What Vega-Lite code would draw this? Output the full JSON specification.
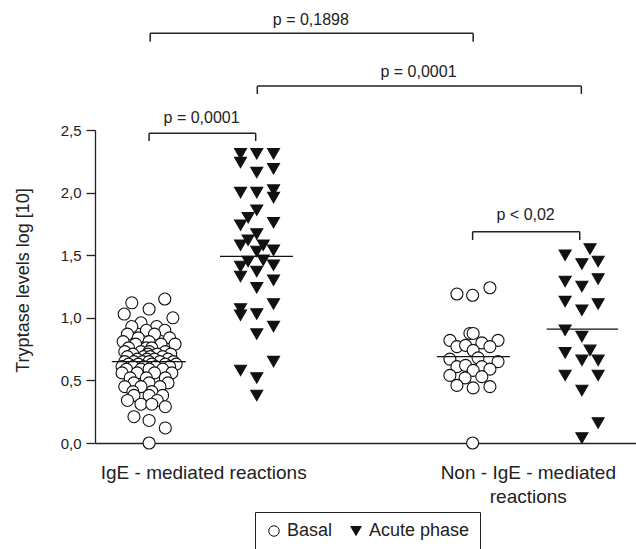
{
  "$schema": "https://vega.github.io/schema/vega-lite/v6.json",
  "width": 541,
  "height": 313,
  "autosize": {"type": "none"},
  "padding": {"left": 95, "top": 130, "right": 0, "bottom": 106},
  "background": "white",
  "config": {
    "view": {"stroke": null},
    "font": "Liberation Sans",
    "axis": {"grid": false, "domainColor": "#222", "tickColor": "#222", "labelColor": "#222", "titleColor": "#222", "labelFont": "Liberation Sans", "titleFont": "Liberation Sans", "domainWidth": 1.3, "tickWidth": 1.3},
    "legend": {"orient": "none", "legendX": 160, "legendY": 382, "direction": "horizontal", "labelFontSize": 18, "labelFont": "Liberation Sans", "labelColor": "#222", "strokeColor": "#222", "padding": 10, "symbolSize": 110, "symbolStrokeColor": "#111", "symbolStrokeWidth": 1, "labelOffset": 4, "columnPadding": 14, "symbolOpacity": 1}
  },
  "encoding": {
    "x": {"field": "x", "type": "quantitative", "scale": {"domain": [0, 10], "nice": false, "zero": false},
      "axis": {"values": [2, 8], "ticks": false, "tickSize": 0, "title": null, "labelFontSize": 19, "labelPadding": 35, "labelBaseline": "alphabetic", "labelLineHeight": 24, "labelAlign": "center", "labelFlush": false, "labelOverlap": false, "labelBound": false, "labelLimit": 0,
        "labelExpr": "datum.value == 2 ? 'IgE - mediated reactions' : ['Non - IgE - mediated', 'reactions']"}},
    "y": {"field": "y", "type": "quantitative", "scale": {"domain": [0, 2.5], "nice": false, "zero": false},
      "axis": {"values": [0, 0.5, 1, 1.5, 2, 2.5], "tickSize": 9, "labelPadding": 5, "labelFontSize": 15, "labelExpr": "replace(format(datum.value, '.1f'), '.', ',')",
        "title": "Tryptase levels log [10]", "titleFontSize": 18, "titleFontWeight": "normal", "titleX": -72, "titleY": 150, "titleAlign": "center", "titleBaseline": "middle", "titleAngle": 270}}
  },
  "layer": [
    {
      "data": {"values": [
        {"s":"Basal","x":1.29,"y":1.15},{"s":"Basal","x":0.68,"y":1.12},{"s":"Basal","x":1.0,"y":1.07},{"s":"Basal","x":0.54,"y":1.03},{"s":"Basal","x":1.44,"y":1.0},
        {"s":"Basal","x":0.85,"y":0.96},{"s":"Basal","x":0.68,"y":0.93},{"s":"Basal","x":1.14,"y":0.93},{"s":"Basal","x":1.29,"y":0.9},{"s":"Basal","x":0.95,"y":0.9},
        {"s":"Basal","x":0.6,"y":0.87},{"s":"Basal","x":1.1,"y":0.87},{"s":"Basal","x":0.8,"y":0.84},{"s":"Basal","x":1.38,"y":0.84},{"s":"Basal","x":0.52,"y":0.81},{"s":"Basal","x":1.0,"y":0.81},
        {"s":"Basal","x":0.75,"y":0.79},{"s":"Basal","x":1.22,"y":0.79},{"s":"Basal","x":1.48,"y":0.79},{"s":"Basal","x":0.62,"y":0.76},{"s":"Basal","x":0.95,"y":0.76},{"s":"Basal","x":1.05,"y":0.76},
        {"s":"Basal","x":0.55,"y":0.73},{"s":"Basal","x":0.85,"y":0.73},{"s":"Basal","x":1.0,"y":0.73},{"s":"Basal","x":1.3,"y":0.73},
        {"s":"Basal","x":0.7,"y":0.71},{"s":"Basal","x":0.98,"y":0.71},{"s":"Basal","x":1.15,"y":0.71},{"s":"Basal","x":1.4,"y":0.71},
        {"s":"Basal","x":0.6,"y":0.69},{"s":"Basal","x":0.9,"y":0.69},{"s":"Basal","x":1.02,"y":0.69},{"s":"Basal","x":1.25,"y":0.69},
        {"s":"Basal","x":0.78,"y":0.67},{"s":"Basal","x":0.96,"y":0.67},{"s":"Basal","x":1.1,"y":0.67},{"s":"Basal","x":1.35,"y":0.67},
        {"s":"Basal","x":0.55,"y":0.65},{"s":"Basal","x":0.72,"y":0.65},{"s":"Basal","x":0.88,"y":0.65},{"s":"Basal","x":1.0,"y":0.65},{"s":"Basal","x":1.2,"y":0.65},{"s":"Basal","x":1.45,"y":0.65},
        {"s":"Basal","x":0.62,"y":0.63},{"s":"Basal","x":0.8,"y":0.63},{"s":"Basal","x":1.05,"y":0.63},{"s":"Basal","x":1.3,"y":0.63},{"s":"Basal","x":1.5,"y":0.63},
        {"s":"Basal","x":0.5,"y":0.61},{"s":"Basal","x":0.7,"y":0.61},{"s":"Basal","x":0.9,"y":0.61},{"s":"Basal","x":1.12,"y":0.61},{"s":"Basal","x":1.38,"y":0.61},
        {"s":"Basal","x":0.58,"y":0.59},{"s":"Basal","x":0.85,"y":0.59},{"s":"Basal","x":1.0,"y":0.59},{"s":"Basal","x":1.25,"y":0.59},
        {"s":"Basal","x":0.5,"y":0.56},{"s":"Basal","x":0.78,"y":0.56},{"s":"Basal","x":1.1,"y":0.56},{"s":"Basal","x":1.42,"y":0.56},
        {"s":"Basal","x":0.65,"y":0.52},{"s":"Basal","x":0.95,"y":0.52},{"s":"Basal","x":1.3,"y":0.52},
        {"s":"Basal","x":0.72,"y":0.48},{"s":"Basal","x":1.0,"y":0.48},{"s":"Basal","x":1.35,"y":0.48},
        {"s":"Basal","x":0.55,"y":0.45},{"s":"Basal","x":0.85,"y":0.45},{"s":"Basal","x":1.2,"y":0.45},
        {"s":"Basal","x":0.7,"y":0.41},{"s":"Basal","x":1.05,"y":0.41},
        {"s":"Basal","x":0.72,"y":0.38},{"s":"Basal","x":1.0,"y":0.38},{"s":"Basal","x":1.25,"y":0.38},
        {"s":"Basal","x":0.6,"y":0.34},{"s":"Basal","x":1.15,"y":0.34},{"s":"Basal","x":0.85,"y":0.31},{"s":"Basal","x":1.05,"y":0.31},{"s":"Basal","x":1.3,"y":0.29},
        {"s":"Basal","x":0.72,"y":0.21},{"s":"Basal","x":1.0,"y":0.18},{"s":"Basal","x":1.3,"y":0.12},{"s":"Basal","x":1.0,"y":0.0},

        {"s":"Acute phase","x":2.69,"y":2.31},{"s":"Acute phase","x":2.99,"y":2.31},{"s":"Acute phase","x":3.3,"y":2.31},
        {"s":"Acute phase","x":2.69,"y":2.24},{"s":"Acute phase","x":3.3,"y":2.19},{"s":"Acute phase","x":2.99,"y":2.16},
        {"s":"Acute phase","x":2.69,"y":2.0},{"s":"Acute phase","x":2.99,"y":2.0},{"s":"Acute phase","x":3.3,"y":2.02},{"s":"Acute phase","x":3.3,"y":1.96},
        {"s":"Acute phase","x":2.99,"y":1.86},{"s":"Acute phase","x":2.83,"y":1.8},{"s":"Acute phase","x":2.69,"y":1.74},{"s":"Acute phase","x":3.3,"y":1.76},
        {"s":"Acute phase","x":2.99,"y":1.67},{"s":"Acute phase","x":2.83,"y":1.62},{"s":"Acute phase","x":2.69,"y":1.58},{"s":"Acute phase","x":3.11,"y":1.58},
        {"s":"Acute phase","x":3.3,"y":1.54},{"s":"Acute phase","x":2.99,"y":1.53},
        {"s":"Acute phase","x":2.83,"y":1.45},{"s":"Acute phase","x":3.11,"y":1.46},{"s":"Acute phase","x":2.69,"y":1.41},{"s":"Acute phase","x":3.3,"y":1.42},
        {"s":"Acute phase","x":2.99,"y":1.37},{"s":"Acute phase","x":2.69,"y":1.33},{"s":"Acute phase","x":3.3,"y":1.3},{"s":"Acute phase","x":2.99,"y":1.24},
        {"s":"Acute phase","x":3.3,"y":1.11},{"s":"Acute phase","x":2.69,"y":1.07},{"s":"Acute phase","x":2.69,"y":1.02},{"s":"Acute phase","x":2.99,"y":1.03},
        {"s":"Acute phase","x":3.3,"y":0.93},{"s":"Acute phase","x":2.99,"y":0.87},{"s":"Acute phase","x":3.3,"y":0.65},{"s":"Acute phase","x":2.69,"y":0.58},
        {"s":"Acute phase","x":2.99,"y":0.52},{"s":"Acute phase","x":2.99,"y":0.38},

        {"s":"Basal","x":6.69,"y":1.19},{"s":"Basal","x":6.98,"y":1.18},{"s":"Basal","x":7.3,"y":1.24},
        {"s":"Basal","x":6.93,"y":0.875},{"s":"Basal","x":6.99,"y":0.875},{"s":"Basal","x":6.56,"y":0.82},{"s":"Basal","x":7.45,"y":0.82},
        {"s":"Basal","x":6.69,"y":0.77},{"s":"Basal","x":6.85,"y":0.78},{"s":"Basal","x":7.15,"y":0.8},{"s":"Basal","x":7.3,"y":0.77},{"s":"Basal","x":6.99,"y":0.74},
        {"s":"Basal","x":7.08,"y":0.68},{"s":"Basal","x":6.56,"y":0.67},{"s":"Basal","x":7.45,"y":0.65},
        {"s":"Basal","x":6.69,"y":0.61},{"s":"Basal","x":6.85,"y":0.62},{"s":"Basal","x":7.15,"y":0.61},{"s":"Basal","x":7.3,"y":0.59},{"s":"Basal","x":6.99,"y":0.58},
        {"s":"Basal","x":6.56,"y":0.54},{"s":"Basal","x":7.15,"y":0.53},{"s":"Basal","x":6.84,"y":0.52},
        {"s":"Basal","x":6.69,"y":0.46},{"s":"Basal","x":6.99,"y":0.44},{"s":"Basal","x":7.3,"y":0.45},{"s":"Basal","x":6.98,"y":0.0},

        {"s":"Acute phase","x":9.15,"y":1.55},{"s":"Acute phase","x":8.69,"y":1.5},{"s":"Acute phase","x":9.0,"y":1.43},{"s":"Acute phase","x":9.3,"y":1.45},
        {"s":"Acute phase","x":9.3,"y":1.31},{"s":"Acute phase","x":8.69,"y":1.29},{"s":"Acute phase","x":9.0,"y":1.25},
        {"s":"Acute phase","x":8.69,"y":1.13},{"s":"Acute phase","x":9.3,"y":1.11},{"s":"Acute phase","x":9.0,"y":1.06},
        {"s":"Acute phase","x":8.69,"y":0.9},{"s":"Acute phase","x":9.0,"y":0.85},
        {"s":"Acute phase","x":8.69,"y":0.72},{"s":"Acute phase","x":9.15,"y":0.74},{"s":"Acute phase","x":9.0,"y":0.66},{"s":"Acute phase","x":9.3,"y":0.66},
        {"s":"Acute phase","x":8.69,"y":0.54},{"s":"Acute phase","x":9.3,"y":0.54},{"s":"Acute phase","x":9.0,"y":0.42},
        {"s":"Acute phase","x":9.3,"y":0.16},{"s":"Acute phase","x":9.0,"y":0.04}
      ]},
      "mark": {"type": "point", "filled": true, "size": 144, "stroke": "#111", "strokeWidth": 1.1, "opacity": 1},
      "encoding": {
        "shape": {"field": "s", "type": "nominal", "scale": {"domain": ["Basal", "Acute phase"], "range": ["circle", "triangle-down"]},
          "legend": {"title": null, "encode": {"symbols": {"update": {"stroke": {"value": "#111"}, "strokeWidth": {"value": 1}}}}}},
        "fill": {"field": "s", "type": "nominal", "scale": {"domain": ["Basal", "Acute phase"], "range": ["white", "#111"]},
          "legend": {"title": null, "encode": {"symbols": {"update": {"stroke": {"value": "#111"}, "strokeWidth": {"value": 1}}}}}}
      }
    },
    {
      "data": {"values": [
        {"x": 0.31, "x2": 1.68, "y": 0.65, "y2": 0.65},
        {"x": 2.31, "x2": 3.66, "y": 1.49, "y2": 1.49},
        {"x": 6.32, "x2": 7.67, "y": 0.69, "y2": 0.69},
        {"x": 8.35, "x2": 9.67, "y": 0.91, "y2": 0.91}
      ]},
      "mark": {"type": "rule", "color": "#111", "strokeWidth": 1.3},
      "encoding": {"x2": {"field": "x2"}, "y2": {"field": "y2"}}
    },
    {
      "data": {"values": [
        {"x": 1.02, "x2": 6.99, "y": 3.272, "y2": 3.272},
        {"x": 1.02, "x2": 1.02, "y": 3.272, "y2": 3.205},
        {"x": 6.99, "x2": 6.99, "y": 3.272, "y2": 3.205},
        {"x": 3.0, "x2": 8.99, "y": 2.851, "y2": 2.851},
        {"x": 3.0, "x2": 3.0, "y": 2.851, "y2": 2.788},
        {"x": 8.99, "x2": 8.99, "y": 2.851, "y2": 2.788},
        {"x": 1.0, "x2": 2.97, "y": 2.474, "y2": 2.474},
        {"x": 1.0, "x2": 1.0, "y": 2.474, "y2": 2.412},
        {"x": 2.97, "x2": 2.97, "y": 2.474, "y2": 2.412},
        {"x": 6.98, "x2": 8.96, "y": 1.688, "y2": 1.688},
        {"x": 6.98, "x2": 6.98, "y": 1.688, "y2": 1.621},
        {"x": 8.96, "x2": 8.96, "y": 1.688, "y2": 1.621}
      ]},
      "mark": {"type": "rule", "color": "#222", "strokeWidth": 1.5},
      "encoding": {"x2": {"field": "x2"}, "y2": {"field": "y2"}}
    },
    {
      "data": {"values": [
        {"x": 3.99, "y": 3.339, "t": "p = 0,1898"},
        {"x": 5.98, "y": 2.921, "t": "p = 0,0001"},
        {"x": 1.97, "y": 2.553, "t": "p = 0,0001"},
        {"x": 7.96, "y": 1.781, "t": "p < 0,02"}
      ]},
      "mark": {"type": "text", "fontSize": 16, "font": "Liberation Sans", "align": "center", "baseline": "alphabetic", "color": "#222"},
      "encoding": {"text": {"field": "t"}}
    }
  ]
}
